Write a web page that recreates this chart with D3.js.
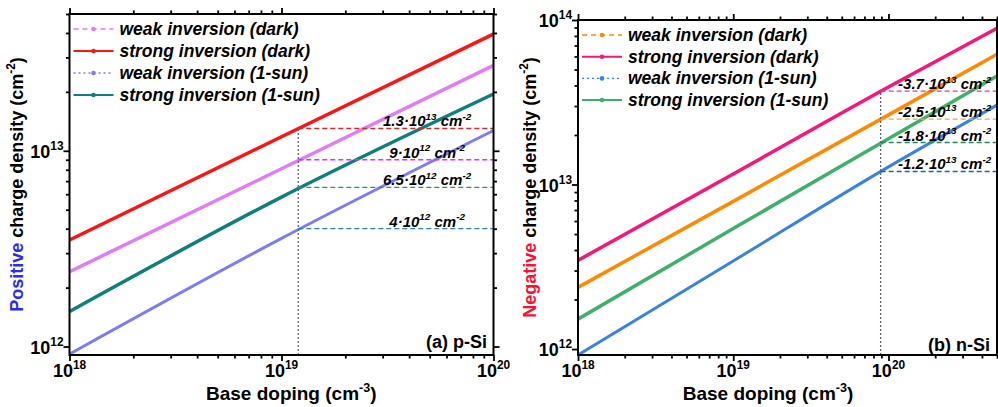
<!DOCTYPE html>
<html>
<head>
<meta charset="utf-8">
<script src="https://cdn.jsdelivr.net/npm/d3@7"></script>
<style>
  body { margin: 0; background: #fff; }
  svg { display: block; font-family: "Liberation Sans", Arial, sans-serif; }
</style>
</head>
<body>
<div id="chart"></div>
<script>
// ---- data ----
const legendNames = ["weak inversion (dark)", "strong inversion (dark)", "weak inversion (1-sun)", "strong inversion (1-sun)"];

// (a) p-Si
const dopingP = [1e18, 1e19, 1e20];
const pWeakDark = [2.41e12, 8.1e12, 2.73e13];
const pStrongDark = [3.5e12, 1.18e13, 3.95e13];
const pWeakSun = [0.915e12, 3.57e12, 1.27e13];
const pStrongSun = [1.51e12, 5.8e12, 1.95e13];
const pMarkDoping = 1.2e19;
const pLevels = [1.3e13, 9e12, 6.5e12, 4e12];
const pLevelMant = ["1.3", "9", "6.5", "4"];
const pLevelExp = ["13", "12", "12", "12"];

// (b) n-Si
const dopingN = [1e18, 1e19, 1e20, 5e20];
const nWeakDark = [2.37e12, 7.9e12, 2.65e13, 6.2e13];
const nStrongDark = [3.46e12, 1.16e13, 3.92e13, 8.9e13];
const nWeakSun = [0.92e12, 3.43e12, 1.28e13, 3.04e13];
const nStrongSun = [1.52e12, 5.4e12, 1.9e13, 4.57e13];
const nMarkDoping = 8.9e19;
const nLevels = [3.7e13, 2.5e13, 1.8e13, 1.2e13];
const nLevelMant = ["-3.7", "-2.5", "-1.8", "-1.2"];
const nLevelExp = ["13", "13", "13", "13"];

const svg = d3.select("#chart").append("svg")
    .attr("width", 998)
    .attr("height", 407);

// write text with superscripts: parts = [[string, isSup], ...]
function richText(sel, parts, fs) {
    const shift = fs * 0.42;
    let up = false;
    parts.forEach(([s, isSup]) => {
        const t = sel.append("tspan").text(s);
        if (isSup) {
            t.style("font-size", (fs * 0.66) + "px");
            if (!up) t.attr("dy", -shift);
            up = true;
        } else if (up) {
            t.attr("dy", shift);
            up = false;
        }
    });
    return sel;
}

function logTicks(domain) {
    const out = [];
    const lo = Math.floor(Math.log10(domain[0])), hi = Math.ceil(Math.log10(domain[1]));
    for (let e = lo; e <= hi; e++) {
        for (let m = 1; m <= 9; m++) {
            const v = m * Math.pow(10, e);
            if (v >= domain[0] * 0.999 && v <= domain[1] * 1.001) out.push(v);
        }
    }
    return out;
}

function drawPanel(cfg) {
    const g = svg.append("g");
    const x = d3.scaleLog().domain(cfg.xDomain).range([cfg.left, cfg.right]);
    const y = d3.scaleLog().domain(cfg.yDomain).range([cfg.bottom, cfg.top]);

    const xAll = logTicks(cfg.xDomain);
    const yAll = logTicks(cfg.yDomain);
    const isMajor = v => Math.abs(Math.log10(v) - Math.round(Math.log10(v))) < 1e-6;

    // ticks on all four sides, pointing outward
    const sides = [
        [d3.axisBottom(x), `translate(0,${cfg.bottom})`, xAll],
        [d3.axisTop(x), `translate(0,${cfg.top})`, xAll],
        [d3.axisLeft(y), `translate(${cfg.left},0)`, yAll],
        [d3.axisRight(y), `translate(${cfg.right},0)`, yAll]
    ];
    sides.forEach(([ax, tr, vals]) => {
        [vals.filter(isMajor), vals.filter(v => !isMajor(v))].forEach((set, k) => {
            const a = g.append("g")
                .attr("transform", tr)
                .call(ax.tickValues(set).tickFormat("").tickSize(k === 0 ? 6 : 3.5).tickSizeOuter(0));
            a.select(".domain").remove();
            a.selectAll("line").attr("stroke", "#000").attr("stroke-width", 1.8);
        });
    });

    // series lines
    const line = d3.line()
        .x(d => x(d[0]))
        .y(d => y(d[1]))
        .curve(d3.curveMonotoneX);
    cfg.series.forEach((s, i) => {
        g.append("path")
            .datum(cfg.doping.map((dv, j) => [dv, s[j]]))
            .attr("fill", "none")
            .attr("stroke", cfg.colors[i])
            .attr("stroke-width", cfg.widths[i])
            .attr("d", line);
    });

    // marker lines
    const xm = x(cfg.mark);
    g.append("line")
        .attr("x1", xm).attr("x2", xm)
        .attr("y1", cfg.bottom).attr("y2", y(d3.max(cfg.levels)))
        .attr("stroke", "#666")
        .attr("stroke-width", 1.3)
        .attr("stroke-dasharray", "2,2");

    cfg.levels.forEach((lv, i) => {
        g.append("line")
            .attr("x1", xm).attr("x2", cfg.right)
            .attr("y1", y(lv)).attr("y2", y(lv))
            .attr("stroke", cfg.levelColors[i])
            .attr("stroke-width", 1.3)
            .attr("stroke-dasharray", "5,3");
        const t = g.append("text")
            .attr("x", xm + cfg.labelFrac * (cfg.right - xm))
            .attr("y", y(lv) - 2)
            .attr("text-anchor", "middle")
            .style("font-size", "15px")
            .style("font-weight", "bold")
            .style("font-style", "italic");
        richText(t, [[cfg.levelMant[i] + "\u00b710", false], [cfg.levelExp[i], true], [" cm", false], ["-2", true]], 15);
    });

    // frame
    g.append("rect")
        .attr("x", cfg.left).attr("y", cfg.top)
        .attr("width", cfg.right - cfg.left)
        .attr("height", cfg.bottom - cfg.top)
        .attr("fill", "none")
        .attr("stroke", "#000")
        .attr("stroke-width", 2);

    // tick labels
    xAll.filter(isMajor).forEach(v => {
        const t = g.append("text")
            .attr("x", x(v))
            .attr("y", cfg.bottom + 22)
            .attr("text-anchor", "middle")
            .style("font-size", "18px")
            .style("font-weight", "bold");
        richText(t, [["10", false], [String(Math.round(Math.log10(v))), true]], 18);
    });
    yAll.filter(isMajor).forEach(v => {
        const t = g.append("text")
            .attr("x", cfg.left - 6)
            .attr("y", y(v) + 7)
            .attr("text-anchor", "end")
            .style("font-size", "18px")
            .style("font-weight", "bold");
        richText(t, [["10", false], [String(Math.round(Math.log10(v))), true]], 18);
    });

    // axis titles
    const xt = g.append("text")
        .attr("x", (cfg.left + cfg.xTitleRight) / 2)
        .attr("y", 400)
        .attr("text-anchor", "middle")
        .style("font-size", "19px")
        .style("font-weight", "bold");
    richText(xt, [["Base doping (cm", false], ["-3", true], [")", false]], 19);

    const yt = g.append("text")
        .attr("transform", `translate(${cfg.yTitleX},${(cfg.top + cfg.bottom) / 2}) rotate(-90)`)
        .attr("text-anchor", "middle")
        .style("font-size", "18px")
        .style("font-weight", "bold");
    yt.append("tspan").attr("fill", cfg.signColor).text(cfg.signWord);
    richText(yt, [[" charge density (cm", false], ["-2", true], [")", false]], 18);

    // panel tag
    g.append("text")
        .attr("x", cfg.tagX)
        .attr("y", cfg.tagY)
        .attr("text-anchor", "end")
        .style("font-size", "18px")
        .style("font-weight", "bold")
        .text(cfg.tag);

    // legend
    const lg = g.append("g");
    legendNames.forEach((name, i) => {
        const ly = cfg.legendY + i * cfg.legendStep;
        const lx = cfg.left + 4;
        lg.append("line")
            .attr("x1", lx).attr("x2", lx + 40)
            .attr("y1", ly).attr("y2", ly)
            .attr("stroke", cfg.colors[i])
            .attr("stroke-width", i % 2 === 0 ? 1.4 : 2)
            .attr("stroke-dasharray", i === 0 ? "5,4" : (i === 2 ? "2,3" : null));
        lg.append("circle")
            .attr("cx", lx + 20).attr("cy", ly)
            .attr("r", 2.3)
            .attr("fill", cfg.colors[i]);
        lg.append("text")
            .attr("x", lx + 46)
            .attr("y", ly + 6)
            .style("font-size", "17.5px")
            .style("font-weight", "bold")
            .style("font-style", "italic")
            .text(name);
    });
}

drawPanel({
    left: 69.5, right: 493.5, top: 14, bottom: 355,
    xDomain: [1e18, 1e20], yDomain: [9.05e11, 5e13],
    doping: dopingP,
    series: [pWeakDark, pStrongDark, pWeakSun, pStrongSun],
    colors: ["#e07cf4", "#ff1414", "#7b7cf6", "#0e7f7a"],
    widths: [3.5, 3.5, 3, 3.5],
    mark: pMarkDoping, levels: pLevels, levelMant: pLevelMant, levelExp: pLevelExp,
    levelColors: ["#d42a2a", "#dd33ee", "#1f9a6c", "#2f7fc0"],
    labelFrac: 0.66,
    xTitleRight: 513,
    yTitleX: 23, signWord: "Positive", signColor: "#2b2bf5",
    tag: "(a) p-Si", tagX: 487, tagY: 348,
    legendY: 29, legendStep: 22
});

drawPanel({
    left: 578, right: 997, top: 20, bottom: 355,
    xDomain: [1e18, 5e20], yDomain: [9.2e11, 1e14],
    doping: dopingN,
    series: [nWeakDark, nStrongDark, nWeakSun, nStrongSun],
    colors: ["#ff8a00", "#f5177a", "#3a82e0", "#3fb06a"],
    widths: [3.5, 3.5, 3, 3.5],
    mark: nMarkDoping, levels: nLevels, levelMant: nLevelMant, levelExp: nLevelExp,
    levelColors: ["#f0358c", "#f5a040", "#1f8a55", "#2060b0"],
    labelFrac: 0.55,
    xTitleRight: 958,
    yTitleX: 536, signWord: "Negative", signColor: "#ff1030",
    tag: "(b) n-Si", tagX: 990, tagY: 351,
    legendY: 35, legendStep: 21.7
});
</script>
</body>
</html>
